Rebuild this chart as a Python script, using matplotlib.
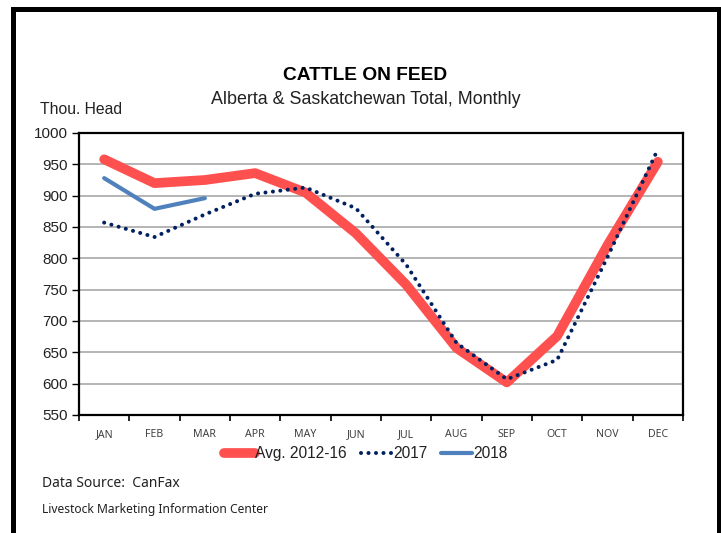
import matplotlib
matplotlib.use("Agg")
import matplotlib.pyplot as plt
from matplotlib.patches import Rectangle
from matplotlib.ticker import FixedLocator, MultipleLocator

months = ["JAN", "FEB", "MAR", "APR", "MAY", "JUN", "JUL", "AUG", "SEP", "OCT", "NOV", "DEC"]
avg_2012_16 = [958, 920, 925, 936, 905, 840, 758, 657, 602, 676, 821, 954]
y2017 = [857, 834, 870, 903, 913, 880, 790, 665, 607, 638, 802, 974]
y2018 = [928, 879, 896]

regular = ["Liberation Sans", "DejaVu Sans"]
small = ["Noto Sans", "DejaVu Sans"]

fig = plt.figure(figsize=(7.21, 5.33), dpi=100)
ax = fig.add_axes([79 / 721, 118 / 533, 604 / 721, 282 / 533])

x = list(range(len(months)))
ax.plot(x, avg_2012_16, color="#FF5050", lw=7, solid_capstyle="round",
        solid_joinstyle="round", label="Avg. 2012-16", zorder=3)
ax.plot(x, y2017, color="#002060", lw=2.9, linestyle=(0, (0.01, 1.85)),
        dash_capstyle="round", label="2017", zorder=4)
ax.plot(x[:len(y2018)], y2018, color="#4F81BD", lw=3, solid_capstyle="round",
        label="2018", zorder=4)

ax.set_xlim(-0.5, 11.5)
ax.set_ylim(550, 1000)
ax.yaxis.set_major_locator(MultipleLocator(50))
ax.grid(axis="y", color="#A0A0A0", lw=1.1, zorder=1)
ax.set_axisbelow(True)

ax.set_xticks(x)
ax.set_xticklabels(months, fontsize=7.6, color="#404040", family=small)
ax.xaxis.set_minor_locator(FixedLocator([i - 0.5 for i in range(13)]))
ax.tick_params(axis="x", which="major", length=0, pad=10)
ax.tick_params(axis="x", which="minor", length=4, width=1.2, direction="out", color="black")
ax.tick_params(axis="y", length=5, width=1, color="black", pad=3)
for lab in ax.get_yticklabels():
    lab.set_family(regular)
    lab.set_fontsize(11)
    lab.set_color("#222222")

for s in ax.spines.values():
    s.set_linewidth(1.6)
    s.set_color("black")

fig.text(0.507, 0.859, "CATTLE ON FEED", ha="center", va="center",
         fontsize=13.8, fontweight="bold", family=regular)
fig.text(0.507, 0.814, "Alberta & Saskatchewan Total, Monthly", ha="center",
         va="center", fontsize=12.9, family=regular, color="#222222")
fig.text(40 / 721, 0.794, "Thou. Head", ha="left", va="center", fontsize=11.3,
         family=regular, color="#222222")

leg = fig.legend(loc="center", bbox_to_anchor=(0.507, 0.149), ncol=3,
                 frameon=False, handlelength=2.0, handletextpad=0.05,
                 columnspacing=0.9, prop={"family": regular, "size": 11.2})
for t in leg.get_texts():
    t.set_color("#222222")

fig.text(42 / 721, 0.092, "Data Source:  CanFax", ha="left", va="center",
         fontsize=10, family=small, color="#222222")
fig.text(42 / 721, 0.045, "Livestock Marketing Information Center", ha="left",
         va="center", fontsize=8.7, family=small, color="#222222")

frame = Rectangle((12.5 / 721, -0.05), 706 / 721, 1.05 - 9.5 / 533,
                  transform=fig.transFigure, fill=False, lw=3.6,
                  edgecolor="black", zorder=10)
fig.patches.append(frame)

fig.savefig("out.png", dpi=100)
